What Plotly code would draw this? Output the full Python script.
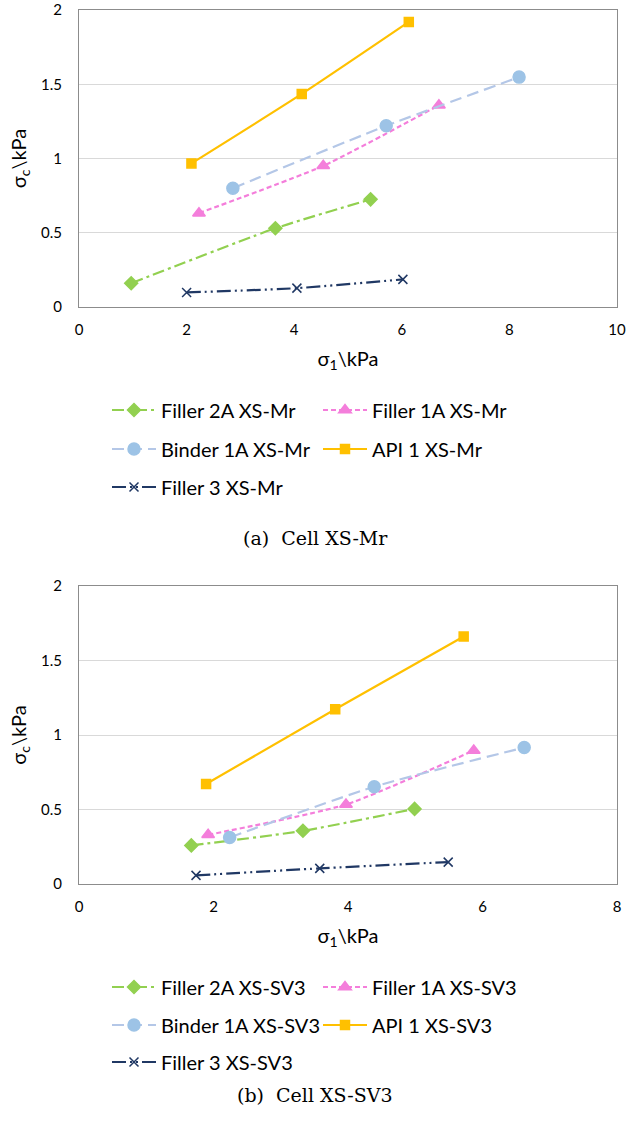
import plotly.graph_objects as go

# ---------------- data ----------------
series_names = ["Filler 2A", "Filler 1A", "Binder 1A", "API 1", "Filler 3"]

# Panel (a) Cell XS-Mr
a_filler2a_x = [0.97, 3.65, 5.42]
a_filler2a_y = [0.16, 0.53, 0.725]
a_filler1a_x = [2.23, 4.54, 6.69]
a_filler1a_y = [0.632, 0.951, 1.359]
a_binder1a_x = [2.86, 5.71, 8.18]
a_binder1a_y = [0.80, 1.22, 1.548]
a_api1_x = [2.09, 4.14, 6.13]
a_api1_y = [0.967, 1.435, 1.92]
a_filler3_x = [2.0, 4.05, 6.02]
a_filler3_y = [0.098, 0.127, 0.186]

# Panel (b) Cell XS-SV3
b_filler2a_x = [1.67, 3.33, 4.99]
b_filler2a_y = [0.259, 0.357, 0.504]
b_filler1a_x = [1.92, 3.97, 5.87]
b_filler1a_y = [0.33, 0.534, 0.896]
b_binder1a_x = [2.24, 4.39, 6.62]
b_binder1a_y = [0.312, 0.653, 0.916]
b_api1_x = [1.89, 3.81, 5.72]
b_api1_y = [0.671, 1.173, 1.661]
b_filler3_x = [1.74, 3.58, 5.49]
b_filler3_y = [0.058, 0.105, 0.147]

x_ticks_a = [0, 2, 4, 6, 8, 10]
x_ticks_b = [0, 2, 4, 6, 8]
y_ticks = [0, 0.5, 1, 1.5, 2]
y_tick_labels = ["0", "0.5", "1", "1.5", "2"]

# ---------------- styles ----------------
styles = {
    "Filler 2A": dict(color="#92D050", dash="12px,4px,3px,4px", symbol="diamond", msize=10, mcolor="#92D050"),
    "Filler 1A": dict(color="#F47EDB", dash="5px,3px", symbol="triangle-up", msize=11, mcolor="#F47EDB"),
    "Binder 1A": dict(color="#B4C7E7", dash="12px,6px", symbol="circle", msize=12, mcolor="#9DC3E6"),
    "API 1": dict(color="#FFC000", dash="solid", symbol="square", msize=9, mcolor="#FFC000"),
    "Filler 3": dict(color="#203864", dash="14px,4px,2px,4px,2px,4px", symbol="x-thin", msize=9, mcolor="#203864"),
}

FONT = "Lato"

fig = go.Figure()

panel_data = {
    "a": [(a_filler2a_x, a_filler2a_y), (a_filler1a_x, a_filler1a_y), (a_binder1a_x, a_binder1a_y),
          (a_api1_x, a_api1_y), (a_filler3_x, a_filler3_y)],
    "b": [(b_filler2a_x, b_filler2a_y), (b_filler1a_x, b_filler1a_y), (b_binder1a_x, b_binder1a_y),
          (b_api1_x, b_api1_y), (b_filler3_x, b_filler3_y)],
}
suffix = {"a": "XS-Mr", "b": "XS-SV3"}
axes = {"a": ("x", "y"), "b": ("x2", "y2")}
legend_rows = {"a": ["legend", "legend", "legend2", "legend2", "legend3"],
               "b": ["legend4", "legend4", "legend5", "legend5", "legend6"]}

for p in ["a", "b"]:
    for i, name in enumerate(series_names):
        st = styles[name]
        xs, ys = panel_data[p][i]
        fig.add_trace(go.Scatter(
            x=xs, y=ys, mode="lines+markers",
            name=f"{name} {suffix[p]}",
            xaxis=axes[p][0], yaxis=axes[p][1],
            line=dict(color=st["color"], dash=st["dash"], width=2.2, shape="spline", smoothing=0.6),
            marker=dict(symbol=st["symbol"], size=st["msize"], color=st["mcolor"],
                        line=dict(color=st["mcolor"], width=1.5)),
            legend=legend_rows[p][i],
        ))

W, H = 640, 1128
def py(pix):
    return 1 - pix / H

x_dom = [79 / W, 617 / W]
common_x = dict(showgrid=False, zeroline=False, showline=True, mirror=True, linecolor="#8C8C8C",
                linewidth=1, ticks="", automargin=False, ticklabelstandoff=9, ticklabeloverflow="allow",
                tickfont=dict(family=FONT, size=15, color="#000"),
                title=dict(font=dict(family=FONT, size=20, color="#000"), standoff=14))
common_y = dict(showgrid=True, gridcolor="#D9D9D9", gridwidth=1, zeroline=False, showline=True, mirror=True,
                linecolor="#8C8C8C", linewidth=1, ticks="", range=[0, 2], tickvals=y_ticks,
                automargin=False, ticklabelstandoff=13, ticklabeloverflow="allow",
                ticktext=y_tick_labels, tickfont=dict(family=FONT, size=15, color="#000"),
                title=dict(text="σ<sub>c</sub>\\kPa", font=dict(family=FONT, size=20, color="#000"), standoff=9))

leg_common = dict(orientation="h", xanchor="left", yanchor="middle", bgcolor="rgba(0,0,0,0)",
                  font=dict(family=FONT, size=20, color="#000"), itemwidth=44, entrywidth=152,
                  itemclick=False, itemdoubleclick=False)
legend_x = 107 / W

fig.update_layout(
    width=W, height=H, margin=dict(l=0, r=0, t=0, b=0),
    paper_bgcolor="white", plot_bgcolor="white",
    xaxis=dict(common_x, domain=x_dom, anchor="y", range=[0, 10], tickvals=x_ticks_a,
               title_text="σ<sub>1</sub>\\kPa"),
    yaxis=dict(common_y, domain=[py(307), py(10)], anchor="x"),
    xaxis2=dict(common_x, domain=x_dom, anchor="y2", range=[0, 8], tickvals=x_ticks_b,
                title_text="σ<sub>1</sub>\\kPa"),
    yaxis2=dict(common_y, domain=[py(884), py(586)], anchor="x2"),
    legend=dict(leg_common, x=legend_x, y=py(410)),
    legend2=dict(leg_common, x=legend_x, y=py(449)),
    legend3=dict(leg_common, x=legend_x, y=py(487)),
    legend4=dict(leg_common, x=legend_x, y=py(987)),
    legend5=dict(leg_common, x=legend_x, y=py(1025)),
    legend6=dict(leg_common, x=legend_x, y=py(1062)),
    showlegend=True,
    annotations=[
        dict(text="(a)  Cell XS-Mr", x=315 / W, y=py(538), xref="paper", yref="paper",
             showarrow=False, font=dict(family="DejaVu Serif", size=19, color="#000")),
        dict(text="(b)  Cell XS-SV3", x=315 / W, y=py(1108), xref="paper", yref="paper",
             showarrow=False, font=dict(family="DejaVu Serif", size=19, color="#000")),
    ],
)

fig.write_html("out.html")
